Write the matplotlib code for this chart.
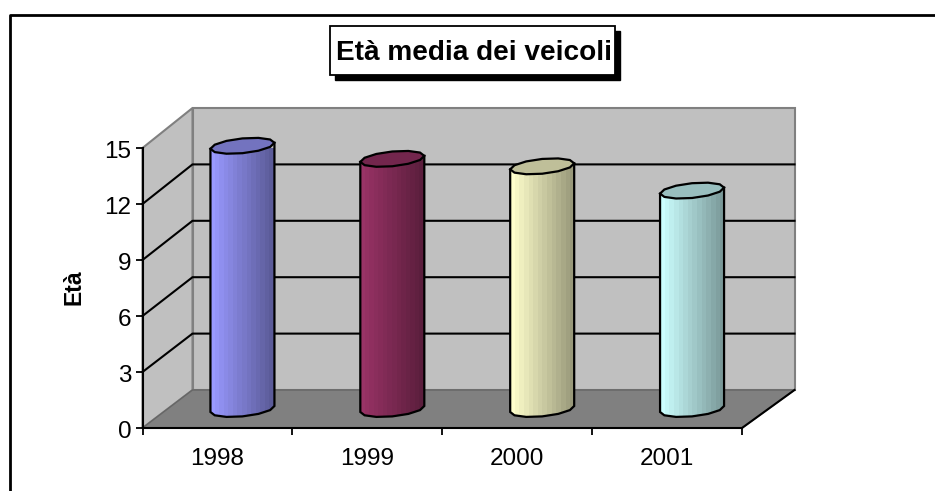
"""Plot average vehicle age as a 3D-looking cylinder chart."""

from __future__ import annotations

import matplotlib.pyplot as plt
import numpy as np
from matplotlib.colors import to_rgb
from matplotlib.lines import Line2D
from matplotlib.patches import Polygon, Rectangle
from matplotlib.transforms import ScaledTranslation

plt.rcParams["font.family"] = ["Liberation Sans", "DejaVu Sans"]

TITLE = "Età media dei veicoli"
Y_LABEL = "Età"
YEARS = ["1998", "1999", "2000", "2001"]
AGES = [14.1, 13.4, 13.0, 11.7]
Y_TICKS = [0, 3, 6, 9, 12, 15]
BODY_COLORS = ["#9999ff", "#993366", "#ffffcc", "#ccffff"]

WIDTH, HEIGHT = 935, 491
# front plane of the box, in pixels
LEFT, RIGHT, TOP, BOTTOM = 142.5, 742.0, 148.0, 428.0
PX_X = (RIGHT - LEFT) / len(YEARS)
PX_Y = (BOTTOM - TOP) / max(Y_TICKS)
DEPTH_X = 50 / PX_X
DEPTH_Y = 38 / PX_Y
# the back wall is a little larger than the front plane
BACK_EXTRA = 2.5 / PX_X
BACK_STRETCH = 282 / 280


def ellipse_points(cx: float, cy: float, n: int = 12) -> np.ndarray:
    """Coarse tilted ellipse, the cylinder caps are faceted in the original."""
    t = np.linspace(0, 2 * np.pi, n, endpoint=False)
    x = cx + 32 / PX_X * np.cos(t)
    y = cy + (7.4 * np.sin(t) + 3.0 * np.cos(t)) / PX_Y
    return np.column_stack([x, y])


def draw_box(ax: plt.Axes) -> None:
    n = len(YEARS)
    top = max(Y_TICKS)
    back_right = n + DEPTH_X + BACK_EXTRA
    back_top = top * BACK_STRETCH + DEPTH_Y
    back_wall = [(DEPTH_X, DEPTH_Y), (back_right, DEPTH_Y), (back_right, back_top), (DEPTH_X, back_top)]
    side_wall = [(0, 0), (DEPTH_X, DEPTH_Y), (DEPTH_X, back_top), (0, top)]
    floor = [(0, 0), (n, 0), (back_right, DEPTH_Y), (DEPTH_X, DEPTH_Y)]
    ax.add_patch(Polygon(back_wall, fc="#c0c0c0", ec="#808080", lw=1.5, zorder=1, clip_on=False))
    ax.add_patch(Polygon(side_wall, fc="#c0c0c0", ec="#808080", lw=1.5, zorder=1, clip_on=False))
    ax.add_patch(Polygon(floor, fc="#808080", ec="#666666", lw=1.0, zorder=1.5, clip_on=False))
    for value in Y_TICKS[1:-1]:
        back_y = value * BACK_STRETCH + DEPTH_Y
        ax.plot([0, DEPTH_X, back_right], [value, back_y, back_y],
                color="black", lw=1.5, zorder=2, clip_on=False)
    ax.plot([n, back_right], [0, DEPTH_Y], color="black", lw=1.5, zorder=2, clip_on=False)


def draw_cylinder(ax: plt.Axes, index: int, value: float, color: str) -> None:
    cx = index + 0.5 + DEPTH_X / 2
    base_y = DEPTH_Y / 2
    top_y = value + DEPTH_Y / 2
    half = 32 / PX_X
    rgb = np.array(to_rgb(color))

    # lower rim of the base cap, from its left point round to its right point
    rim = ellipse_points(cx, base_y)
    rim = rim[np.argsort(rim[:, 0])]
    chord = base_y + (rim[:, 0] - cx) / half * 3.0 / PX_Y
    lower = rim[(rim[:, 1] <= chord + 1e-9)]

    top_cap = ellipse_points(cx, top_y)
    left_top = top_cap[np.argmin(top_cap[:, 0])]
    right_top = top_cap[np.argmax(top_cap[:, 0])]
    outline = np.vstack([
        [left_top[0], top_y - 3.0 / PX_Y],
        [left_top[0], base_y - 3.0 / PX_Y],
        lower,
        [right_top[0], base_y + 3.0 / PX_Y],
        [right_top[0], top_y + 3.0 / PX_Y],
    ])

    ax.add_patch(Polygon(outline, fc="none", ec="black", lw=1.6, zorder=4, clip_on=False))
    shades = np.linspace(1.0, 0.6, 14)[None, :, None] * rgb
    image = ax.imshow(shades, extent=(cx - half, cx + half, 0, top_y + 1), aspect="auto",
                      interpolation="nearest", zorder=3)
    image.set_clip_path(Polygon(outline, transform=ax.transData))
    ax.add_patch(Polygon(top_cap, fc=rgb * 0.75, ec="black", lw=1.6, zorder=5, clip_on=False))


def draw_title(fig: plt.Figure) -> None:
    fig.add_artist(Rectangle((335 / WIDTH, 1 - 80 / HEIGHT), 285 / WIDTH, 49 / HEIGHT,
                             transform=fig.transFigure, fc="black", ec="black", lw=1))
    fig.add_artist(Rectangle((330 / WIDTH, 1 - 75 / HEIGHT), 285 / WIDTH, 49 / HEIGHT,
                             transform=fig.transFigure, fc="white", ec="black", lw=1.3))
    fig.text(473.5 / WIDTH, 1 - 52.5 / HEIGHT, TITLE, ha="center", va="center",
             fontsize=20.2, fontweight="bold")


def main() -> None:
    fig = plt.figure(figsize=(WIDTH / 100, HEIGHT / 100), dpi=100)
    fig.add_artist(Line2D([10 / WIDTH, 10 / WIDTH, 1],
                          [0, 1 - 14.5 / HEIGHT, 1 - 14.5 / HEIGHT], color="black", lw=2))

    ax = fig.add_axes([LEFT / WIDTH, 1 - BOTTOM / HEIGHT,
                       (RIGHT - LEFT) / WIDTH, (BOTTOM - TOP) / HEIGHT])
    ax.patch.set_visible(False)

    draw_box(ax)
    for index, (value, color) in enumerate(zip(AGES, BODY_COLORS)):
        draw_cylinder(ax, index, value, color)

    ax.set_xlim(0, len(YEARS))
    ax.set_ylim(0, max(Y_TICKS))
    for side in ("top", "right"):
        ax.spines[side].set_visible(False)
    for side in ("left", "bottom"):
        ax.spines[side].set_linewidth(1.5)
        ax.spines[side].set_zorder(6)

    ax.set_yticks(Y_TICKS)
    ax.set_xticks(range(len(YEARS) + 1), [""] * (len(YEARS) + 1))
    ax.set_xticks(np.arange(len(YEARS)) + 0.5, YEARS, minor=True)
    ax.tick_params(axis="both", which="major", length=5, width=1.3, labelsize=17.5, pad=3)
    ax.tick_params(axis="x", which="minor", length=0, labelsize=17.5, pad=14.5)
    nudge = ScaledTranslation(0, -1 / 100, fig.dpi_scale_trans)
    for label in ax.get_yticklabels():
        label.set_transform(label.get_transform() + nudge)

    fig.text(74 / WIDTH, 1 - 287 / HEIGHT, Y_LABEL, rotation=90, ha="center", va="center",
             fontsize=16.5, fontweight="bold")
    draw_title(fig)

    fig.savefig("out.png", dpi=100)
    plt.close(fig)


if __name__ == "__main__":
    main()
